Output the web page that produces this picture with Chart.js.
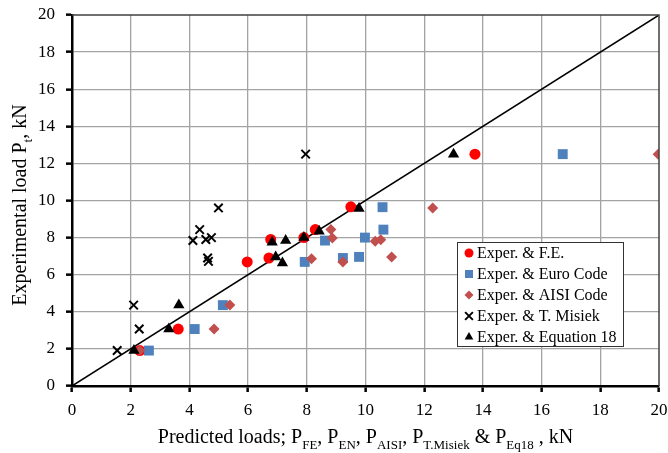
<!DOCTYPE html>
<html>
<head>
<meta charset="utf-8">
<script src="https://cdn.jsdelivr.net/npm/chart.js@4.4.1/dist/chart.umd.min.js"></script>
<style>
    html, body { margin: 0; padding: 0; background: #fff; }
    #wrap { width: 668px; height: 453px; }
</style>
</head>
<body>
<div id="wrap"><canvas id="myChart" width="668" height="453"></canvas></div>
<script>
var seriesNames = ["Exper. & F.E.", "Exper. & Euro Code", "Exper. & AISI Code", "Exper. & T. Misiek", "Exper. & Equation 18"];

// predicted load (x) and experimental load (y), kN
var feX = [2.31, 3.62, 5.97, 6.71, 6.77, 7.90, 8.29, 9.50, 13.73];
var feY = [1.91, 3.07, 6.69, 6.90, 7.90, 8.00, 8.43, 9.66, 12.50];

var enX = [2.62, 4.18, 5.14, 7.93, 9.23, 9.78, 8.62, 9.98, 10.61, 10.58, 16.72];
var enY = [1.91, 3.07, 4.36, 6.69, 6.90, 6.96, 7.84, 8.00, 8.43, 9.64, 12.50];

var aisiX = [2.31, 4.84, 5.38, 9.23, 8.16, 10.89, 10.33, 10.52, 8.87, 8.82, 12.29, 19.97];
var aisiY = [1.91, 3.07, 4.36, 6.69, 6.86, 6.96, 7.80, 7.89, 7.98, 8.43, 9.60, 12.50];

var misiekX = [1.54, 2.29, 2.10, 4.65, 4.62, 4.12, 4.56, 4.75, 4.35, 4.99, 7.96];
var misiekY = [1.91, 3.07, 4.36, 6.72, 6.90, 7.84, 7.90, 8.00, 8.43, 9.60, 12.50];

var eq18X = [2.11, 3.30, 3.64, 7.17, 6.94, 6.82, 7.28, 7.90, 8.42, 9.78, 13.00];
var eq18Y = [1.91, 3.07, 4.36, 6.63, 6.96, 7.75, 7.84, 8.00, 8.34, 9.57, 12.50];

var equalityLine = [0, 20];
var axisTicks = [0, 2, 4, 6, 8, 10, 12, 14, 16, 18, 20];

function toPoints(xs, ys) {
    var pts = [];
    for (var i = 0; i < xs.length; i++) {
        pts.push({ x: xs[i], y: ys[i] });
    }
    return pts;
}

var serif = "'Liberation Serif', 'Times New Roman', serif";

function drawParts(ctx, parts, x, y, size, subSize, align) {
    var total = 0;
    parts.forEach(function (p) {
        ctx.font = (p.sub ? subSize : size) + "px " + serif;
        p.w = ctx.measureText(p.t).width;
        total += p.w;
    });
    var cx = align === 'center' ? x - total / 2 : x;
    parts.forEach(function (p) {
        ctx.font = (p.sub ? subSize : size) + "px " + serif;
        ctx.fillText(p.t, cx, y + (p.sub ? size * 0.28 : 0));
        cx += p.w;
    });
}

var titlesPlugin = {
    id: 'titles',
    afterDraw: function (chart) {
        var ctx = chart.ctx;
        var area = chart.chartArea;
        ctx.save();
        ctx.fillStyle = '#000';
        ctx.textAlign = 'left';
        ctx.textBaseline = 'alphabetic';

        drawParts(ctx, [
            { t: 'Predicted loads; P' }, { t: 'FE', sub: true },
            { t: ', P' }, { t: 'EN', sub: true },
            { t: ', P' }, { t: 'AISI', sub: true },
            { t: ', P' }, { t: 'T.Misiek', sub: true },
            { t: ' & P' }, { t: 'Eq18', sub: true },
            { t: ' , kN' }
        ], (area.left + area.right) / 2, 443, 20, 13, 'center');

        ctx.translate(26, 205);
        ctx.rotate(-Math.PI / 2);
        drawParts(ctx, [
            { t: 'Experimental load P' }, { t: 't', sub: true }, { t: ', kN' }
        ], 0, 0, 20, 13, 'center');
        ctx.restore();

        // plot frame, top and right
        ctx.save();
        ctx.strokeStyle = '#404040';
        ctx.lineWidth = 1.5;
        ctx.beginPath();
        ctx.moveTo(area.left, area.top);
        ctx.lineTo(area.right, area.top);
        ctx.lineTo(area.right, area.bottom);
        ctx.stroke();
        ctx.restore();

        // legend box
        var lx = 457, ly = 242, lw = 166, lh = 104;
        ctx.save();
        ctx.fillStyle = '#fff';
        ctx.fillRect(lx, ly, lw, lh);
        ctx.strokeStyle = '#333';
        ctx.lineWidth = 1;
        ctx.strokeRect(lx + 0.5, ly + 0.5, lw, lh);
        ctx.font = "16px " + serif;
        ctx.textBaseline = 'middle';
        var metas = [0, 1, 2, 3, 4];
        metas.forEach(function (i) {
            var ds = chart.data.datasets[i];
            var cy = 253 + i * 21;
            ctx.fillStyle = ds.backgroundColor;
            ctx.strokeStyle = ds.borderColor;
            ctx.lineWidth = ds.pointStyle === 'crossRot' ? 2 : 0;
            Chart.helpers.drawPoint(ctx, {
                pointStyle: ds.pointStyle,
                radius: ds.legendRadius,
                rotation: 0,
                borderWidth: ds.pointStyle === 'crossRot' ? 2 : 0
            }, 469, cy);
            ctx.fillStyle = '#000';
            ctx.fillText(ds.label, 477, cy + 1);
        });
        ctx.restore();
    }
};

function gridColor(ctx) {
    return ctx.tick && ctx.tick.value === 20 ? 'rgba(0,0,0,0)' : '#A3A3A3';
}

var ctx = document.getElementById("myChart");
var myChart = new Chart(ctx, {
    type: 'scatter',
    data: {
        datasets: [
            {
                label: seriesNames[0], data: toPoints(feX, feY),
                pointStyle: 'circle', pointRadius: 5.5, legendRadius: 4.5,
                backgroundColor: '#FF0000', borderColor: '#FF0000', pointBorderWidth: 0, order: 5
            },
            {
                label: seriesNames[1], data: toPoints(enX, enY),
                pointStyle: 'rect', pointRadius: 7, legendRadius: 5.7,
                backgroundColor: '#4F81BD', borderColor: '#4F81BD', pointBorderWidth: 0, order: 4
            },
            {
                label: seriesNames[2], data: toPoints(aisiX, aisiY),
                pointStyle: 'rectRot', pointRadius: 5.5, legendRadius: 4.5,
                backgroundColor: '#C0504D', borderColor: '#C0504D', pointBorderWidth: 0, order: 3
            },
            {
                label: seriesNames[3], data: toPoints(misiekX, misiekY),
                pointStyle: 'crossRot', pointRadius: 6, legendRadius: 5.5,
                backgroundColor: '#000', borderColor: '#000', pointBorderWidth: 2, order: 2
            },
            {
                label: seriesNames[4], data: toPoints(eq18X, eq18Y),
                pointStyle: 'triangle', pointRadius: 6.5, legendRadius: 5,
                backgroundColor: '#000', borderColor: '#000', pointBorderWidth: 0, order: 1
            },
            {
                type: 'line', label: 'y = x', data: toPoints(equalityLine, equalityLine),
                borderColor: '#000', borderWidth: 1.5, pointRadius: 0, showLine: true, fill: false, order: 6
            }
        ]
    },
    options: {
        responsive: false,
        animation: false,
        events: [],
        layout: { autoPadding: false, padding: { top: 15, right: 9, left: 0, bottom: 0 } },
        plugins: {
            legend: { display: false },
            tooltip: { enabled: false }
        },
        scales: {
            x: {
                type: 'linear', min: 0, max: 20,
                afterBuildTicks: function (scale) {
                    scale.ticks = axisTicks.map(function (v) { return { value: v }; });
                },
                afterFit: function (scale) {
                    scale.height = 67;
                    scale.paddingLeft = 0;
                    scale.paddingRight = 0;
                },
                grid: { color: gridColor, lineWidth: 1.3, tickColor: '#000', tickLength: 6, tickWidth: 2.5 },
                border: { color: '#000', width: 2.5 },
                ticks: { color: '#000', font: { family: serif, size: 17 }, padding: 8, maxRotation: 0 }
            },
            y: {
                type: 'linear', min: 0, max: 20,
                afterBuildTicks: function (scale) {
                    scale.ticks = axisTicks.map(function (v) { return { value: v }; });
                },
                afterFit: function (scale) {
                    scale.width = 72;
                    scale.paddingTop = 0;
                    scale.paddingBottom = 0;
                },
                grid: { color: gridColor, lineWidth: 1.3, tickColor: '#000', tickLength: 6, tickWidth: 2.5 },
                border: { color: '#000', width: 2.5 },
                ticks: { color: '#000', font: { family: serif, size: 17 }, padding: 11 }
            }
        }
    },
    plugins: [titlesPlugin]
});
</script>
</body>
</html>
